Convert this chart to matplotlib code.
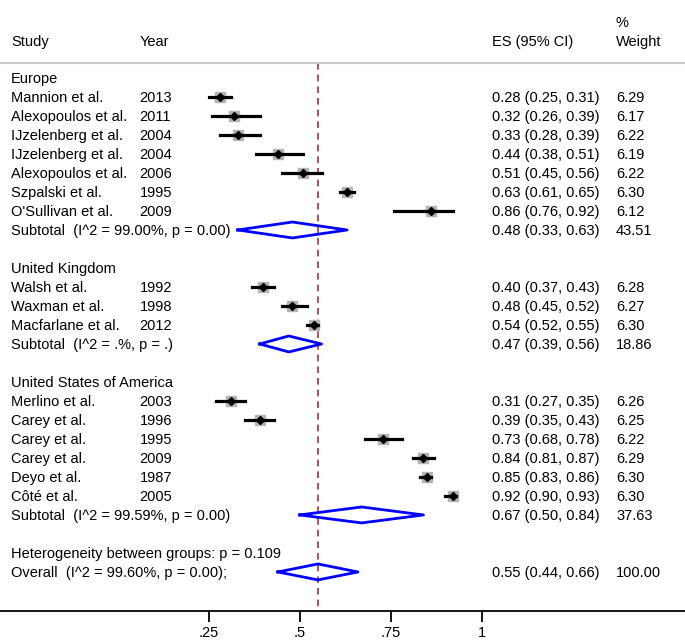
import matplotlib
matplotlib.use("Agg")
import matplotlib.pyplot as plt
import matplotlib.transforms as mtransforms

plt.rcParams['font.family'] = ['Liberation Sans', 'DejaVu Sans']

# studies per region
regions = ['Europe', 'United Kingdom', 'United States of America']
studies = [
    ['Mannion et al.', 'Alexopoulos et al.', 'IJzelenberg et al.', 'IJzelenberg et al.',
     'Alexopoulos et al.', 'Szpalski et al.', "O'Sullivan et al."],
    ['Walsh et al.', 'Waxman et al.', 'Macfarlane et al.'],
    ['Merlino et al.', 'Carey et al.', 'Carey et al.', 'Carey et al.', 'Deyo et al.', 'Côté et al.'],
]
years = [
    [2013, 2011, 2004, 2004, 2006, 1995, 2009],
    [1992, 1998, 2012],
    [2003, 1996, 1995, 2009, 1987, 2005],
]
es = [
    [0.28, 0.32, 0.33, 0.44, 0.51, 0.63, 0.86],
    [0.40, 0.48, 0.54],
    [0.31, 0.39, 0.73, 0.84, 0.85, 0.92],
]
lo = [
    [0.25, 0.26, 0.28, 0.38, 0.45, 0.61, 0.76],
    [0.37, 0.45, 0.52],
    [0.27, 0.35, 0.68, 0.81, 0.83, 0.90],
]
hi = [
    [0.31, 0.39, 0.39, 0.51, 0.56, 0.65, 0.92],
    [0.43, 0.52, 0.55],
    [0.35, 0.43, 0.78, 0.87, 0.86, 0.93],
]
weights = [
    ['6.29', '6.17', '6.22', '6.19', '6.22', '6.30', '6.12'],
    ['6.28', '6.27', '6.30'],
    ['6.26', '6.25', '6.22', '6.29', '6.30', '6.30'],
]
sub_label = ['Subtotal  (I^2 = 99.00%, p = 0.00)', 'Subtotal  (I^2 = .%, p = .)',
             'Subtotal  (I^2 = 99.59%, p = 0.00)']
sub_es = [0.48, 0.47, 0.67]
sub_lo = [0.33, 0.39, 0.50]
sub_hi = [0.63, 0.56, 0.84]
sub_w = ['43.51', '18.86', '37.63']

overall = (0.55, 0.44, 0.66)
het_text = 'Heterogeneity between groups: p = 0.109'
overall_label = 'Overall  (I^2 = 99.60%, p = 0.00);'
xticks = [0.25, 0.5, 0.75, 1]
xticklabels = ['.25', '.5', '.75', '1']

fig = plt.figure(figsize=(6.85, 6.43), dpi=100)
ax = fig.add_axes([0, 0, 1, 1])
ax.set_xlim(-0.3234, 1.5585)
ax.set_ylim(29.74, -4.105)

lab = mtransforms.blended_transform_factory(ax.transAxes, ax.transData)
fs = 10.5
X_STUDY, X_YEAR, X_ES, X_W = 11 / 685, 139.5 / 685, 492.5 / 685, 616 / 685

def txt(x, y, s):
    ax.text(x, y, s, transform=lab, fontsize=fs, va='center_baseline')

def fmt(e, l, h):
    return '%.2f (%.2f, %.2f)' % (e, l, h)

def diamond(c, l, h, y):
    ax.plot([l, c, h, c, l], [y, y - 0.42, y, y + 0.42, y], color='#0000ff', lw=2, zorder=4)

# header
txt(X_STUDY, -1.95, 'Study')
txt(X_YEAR, -1.95, 'Year')
txt(X_ES, -1.95, 'ES (95% CI)')
txt(X_W, -1.95, 'Weight')
txt(X_W, -2.95, '%')
ax.plot([0, 1], [-0.79, -0.79], transform=lab, color='#c8c8c8', lw=1.5, clip_on=False)

row = 0
for g in range(len(regions)):
    txt(X_STUDY, row, regions[g])
    row += 1
    for i in range(len(studies[g])):
        txt(X_STUDY, row, studies[g][i])
        txt(X_YEAR, row, str(years[g][i]))
        txt(X_ES, row, fmt(es[g][i], lo[g][i], hi[g][i]))
        txt(X_W, row, weights[g][i])
        ax.plot(es[g][i], row, marker='s', ms=7.5, color='#b4b4b4', zorder=2)
        ax.plot([lo[g][i], hi[g][i]], [row, row], color='black', lw=2.3, zorder=3)
        ax.plot(es[g][i], row, marker='D', ms=4.5, color='black', zorder=4)
        row += 1
    txt(X_STUDY, row, sub_label[g])
    txt(X_ES, row, fmt(sub_es[g], sub_lo[g], sub_hi[g]))
    txt(X_W, row, sub_w[g])
    diamond(sub_es[g], sub_lo[g], sub_hi[g], row)
    row += 2

txt(X_STUDY, row, het_text)
row += 1
txt(X_STUDY, row, overall_label)
txt(X_ES, row, fmt(*overall))
txt(X_W, row, '100.00')
diamond(overall[0], overall[1], overall[2], row)

# reference line at overall estimate
ax.plot([overall[0], overall[0]], [-0.79, 28], color='#a83232', lw=1.2, ls=(0, (4, 3)), zorder=1)

# x axis
for s in ['top', 'left', 'right']:
    ax.spines[s].set_visible(False)
ax.spines['bottom'].set_position(('data', 28.05))
ax.spines['bottom'].set_linewidth(1.3)
ax.set_yticks([])
ax.set_xticks(xticks)
ax.set_xticklabels(xticklabels, fontsize=fs)
ax.tick_params(axis='x', direction='out', length=8, width=1.3, pad=3)

fig.savefig('out.png', dpi=100)
